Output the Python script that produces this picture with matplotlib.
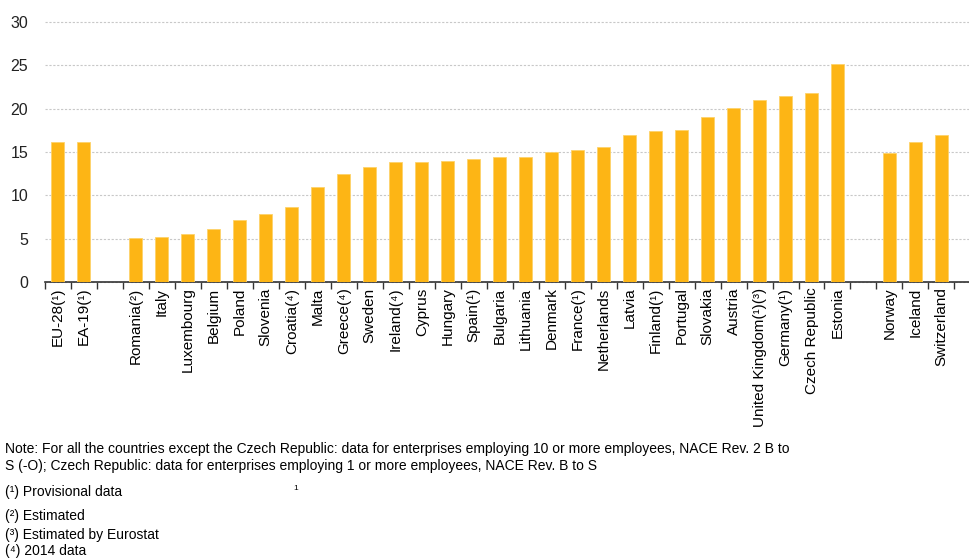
import numpy as np
import matplotlib
matplotlib.use('Agg')
import matplotlib.pyplot as plt

# share of ... by country, empty strings are gaps between groups
countries = ['EU-28(¹)', 'EA-19(¹)', '',
             'Romania(²)', 'Italy', 'Luxembourg', 'Belgium', 'Poland', 'Slovenia',
             'Croatia(⁴)', 'Malta', 'Greece(⁴)', 'Sweden', 'Ireland(⁴)', 'Cyprus',
             'Hungary', 'Spain(¹)', 'Bulgaria', 'Lithuania', 'Denmark', 'France(¹)',
             'Netherlands', 'Latvia', 'Finland(¹)', 'Portugal', 'Slovakia', 'Austria',
             'United Kingdom(¹)(³)', 'Germany(¹)', 'Czech Republic', 'Estonia', '',
             'Norway', 'Iceland', 'Switzerland']
values = [16.1, 16.2, np.nan,
          5.1, 5.2, 5.5, 6.1, 7.1, 7.8,
          8.7, 11.0, 12.5, 13.3, 13.9, 13.9,
          14.0, 14.2, 14.4, 14.4, 15.0, 15.2,
          15.6, 17.0, 17.4, 17.5, 19.0, 20.1,
          21.0, 21.5, 21.8, 25.2, np.nan,
          14.9, 16.2, 17.0]

notes = [
    'Note: For all the countries except the Czech Republic: data for enterprises employing 10 or more employees, NACE Rev. 2 B to',
    'S (-O); Czech Republic: data for enterprises employing 1 or more employees, NACE Rev. B to S',
]
footnotes = ['(¹) Provisional data', '(²) Estimated', '(³) Estimated by Eurostat', '(⁴) 2014 data']

plt.rcParams['font.family'] = ['Liberation Sans', 'DejaVu Sans']

fig = plt.figure(figsize=(9.7, 5.59), dpi=100)
ax = fig.add_axes([45/970, 1 - 282/559, 925/970, 260/559])

x = np.arange(len(countries))
ax.bar(x, values, width=0.5, color='#FDB515', edgecolor='#FDD36A', linewidth=0.6, zorder=3)

ax.set_ylim(0, 30)
ax.set_xlim(-0.5, 35.1)
ax.set_yticks(range(0, 31, 5))
ax.yaxis.grid(True, color='#c8c8c8', linestyle=(0, (2, 1.5)), linewidth=0.8, zorder=0)
ax.set_axisbelow(True)
for g in ax.get_ygridlines():
    g.set_clip_on(False)

for s in ['top', 'right', 'left']:
    ax.spines[s].set_visible(False)
ax.spines['bottom'].set_color('#333333')
ax.spines['bottom'].set_linewidth(1.2)

ax.tick_params(axis='y', length=0, labelsize=11.5, pad=12, colors='#222222')
ax.set_xticks(x)
ax.set_xticklabels(countries, rotation=90, fontsize=11)
ax.tick_params(axis='x', which='major', length=0, pad=4)
ax.set_xticks(np.arange(-0.5, 35, 1), minor=True)
ax.tick_params(axis='x', which='minor', length=5, width=1, color='#333333', direction='out')

note_font = ['Liberation Sans', 'DejaVu Sans']
fig.text(5/970, 1 - 449/559, notes[0], fontsize=10, family=note_font, va='center')
fig.text(5/970, 1 - 466/559, notes[1], fontsize=10, family=note_font, va='center')
fig.text(293/970, 1 - 489/559, '1', fontsize=6, family=note_font, va='center')
for txt, yy in zip(footnotes, [492, 516, 535, 551]):
    fig.text(5/970, 1 - yy/559, txt, fontsize=10, family=note_font, va='center')

fig.savefig('out.png', dpi=100)
